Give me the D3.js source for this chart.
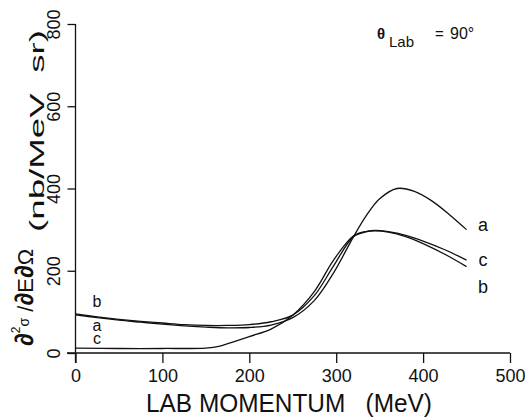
<!DOCTYPE html>
<html>
<head>
<meta charset="utf-8">
<script src="https://cdn.jsdelivr.net/npm/d3@7"></script>
<style>
html,body{margin:0;padding:0;background:#fff;}
svg{display:block;}
text{font-family:"Liberation Sans",Arial,sans-serif;fill:#111;}
</style>
</head>
<body>
<svg id="chart" width="525" height="418"></svg>
<script>
// ---- data ----
const momentumA = [0,25,50,75,100,125,150,175,200,225,250,275,297,320,335,350,370,390,410,430,450];
const valuesA   = [93,86,80,75,70,66,63,61,62,68,86,128,195,283,335,375,400,393,370,337,300];
const momentumB = [0,25,50,75,100,125,150,175,200,225,250,275,297,320,335,345,360,380,400,425,450];
const valuesB   = [95,88,82,77,73,69,67,67,69,76,92,140,212,283,295,297,294,283,266,240,210];
const momentumC = [0,50,100,150,165,180,200,225,250,275,297,320,335,345,360,380,400,425,450];
const valuesC   = [12,11,11,12,16,26,40,58,92,150,226,285,296,298,295,286,272,251,226];
const xTicks = [0,100,200,300,400,500];
const yTicks = [0,200,400,600,800];
const seriesNames = ["a","b","c"];

const svg = d3.select("#chart");
const x = d3.scaleLinear().domain([0,500]).range([75.5,510]);
const y = d3.scaleLinear().domain([0,800]).range([353,24]);

// axes
const xAxis = d3.axisBottom(x).tickValues(xTicks).tickSize(10).tickFormat(d3.format("d"));
const yAxis = d3.axisLeft(y).tickValues(yTicks).tickSize(8).tickFormat(d3.format("d"));

const gx = svg.append("g").attr("transform","translate(0,353)").call(xAxis);
gx.select(".domain").attr("d","M67,0H510").attr("stroke","#111").attr("stroke-width",1.3);
gx.selectAll("line").attr("stroke","#111").attr("stroke-width",1.3);
gx.selectAll("text").attr("font-size",18).attr("y",29).attr("dy",0)
  .attr("font-family","Liberation Sans, Arial, sans-serif").attr("fill","#111");

const gy = svg.append("g").attr("transform","translate(75.5,0)").call(yAxis);
gy.select(".domain").attr("d","M0,24V363").attr("stroke","#111").attr("stroke-width",1.3);
gy.selectAll("line").attr("stroke","#111").attr("stroke-width",1.3);
gy.selectAll(".tick text")
  .attr("font-size",18).attr("x",0).attr("dy",0).attr("y",0)
  .attr("text-anchor","middle")
  .attr("font-family","Liberation Sans, Arial, sans-serif").attr("fill","#111")
  .attr("transform","translate(-15.5,0) rotate(-90)");

// curves
const line = d3.line().x(d=>x(d[0])).y(d=>y(d[1])).curve(d3.curveCatmullRom.alpha(0.5));
const series = [
  {k:"a", m:momentumA, v:valuesA},
  {k:"b", m:momentumB, v:valuesB},
  {k:"c", m:momentumC, v:valuesC}
];
series.forEach(s=>{
  svg.append("path")
    .datum(s.m.map((m,i)=>[m,s.v[i]]))
    .attr("d",line)
    .attr("fill","none")
    .attr("stroke","#111")
    .attr("stroke-width",1.3);
});

// curve labels
const endY = {a:225, c:260, b:287};
seriesNames.forEach(k=>{
  svg.append("text").attr("x",483).attr("y",endY[k]+6)
    .attr("text-anchor","middle").attr("font-size",18).text(k);
});
const leftY = {b:302, a:326, c:339};
seriesNames.forEach(k=>{
  svg.append("text").attr("x",97).attr("y",leftY[k]+5)
    .attr("text-anchor","middle").attr("font-size",16).text(k);
});

// axis titles
svg.append("text")
  .attr("x",146).attr("y",412)
  .attr("font-size",26)
  .attr("textLength",286).attr("lengthAdjust","spacingAndGlyphs")
  .attr("xml:space","preserve")
  .text("LAB MOMENTUM   (MeV)");

const yl = svg.append("text")
  .attr("transform","translate(33,346) rotate(-90)")
  .attr("font-family","DejaVu Sans, sans-serif");
yl.append("tspan").attr("font-size",26).attr("font-weight","bold").text("∂");
yl.append("tspan").attr("font-size",12).attr("dy",-13).text("2");
yl.append("tspan").attr("font-size",14).attr("dy",9).text("σ");
yl.append("tspan").attr("font-size",22).attr("dy",4).text(" /");
yl.append("tspan").attr("font-size",26).attr("font-weight","bold").text("∂");
yl.append("tspan").attr("font-size",22).text("E");
yl.append("tspan").attr("font-size",26).attr("font-weight","bold").text("∂");
yl.append("tspan").attr("font-size",22).text("Ω");

svg.append("text")
  .attr("transform","translate(44,232) rotate(-90)")
  .attr("font-size",20)
  .attr("textLength",202).attr("lengthAdjust","spacingAndGlyphs")
  .attr("xml:space","preserve")
  .text("(nb/MeV  sr)");

// annotation
const ann = svg.append("g");
ann.append("text").attr("x",377).attr("y",39).attr("font-size",15).attr("font-weight","bold")
  .attr("font-family","DejaVu Sans, sans-serif").text("θ");
ann.append("text").attr("x",389).attr("y",47).attr("font-size",15).text("Lab");
ann.append("text").attr("x",435).attr("y",39).attr("font-size",15).text("=");
ann.append("text").attr("x",450).attr("y",39).attr("font-size",16).text("90°");
</script>
</body>
</html>
